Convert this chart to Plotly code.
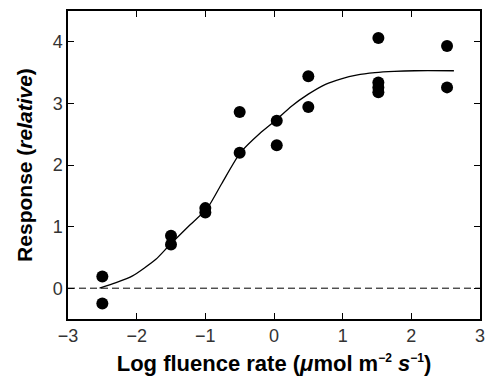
import plotly.graph_objects as go

# Measured data points
pt_x = [-2.5, -2.5, -1.5, -1.5, -1.0, -1.0, -0.5, -0.5, 0.04, 0.04, 0.5, 0.5,
        1.52, 1.52, 1.52, 1.52, 2.52, 2.52]
pt_y = [0.19, -0.25, 0.85, 0.71, 1.30, 1.23, 2.86, 2.20, 2.72, 2.32, 3.44, 2.94,
        4.06, 3.34, 3.26, 3.18, 3.93, 3.26]

# Fitted curve
curve_x = [-2.54, -2.3, -2.06, -1.72, -1.53, -1.24, -0.97, -0.76, -0.49, -0.2, 0.04,
           0.25, 0.5, 0.75, 0.98, 1.2, 1.47, 1.75, 2.05, 2.62]
curve_y = [0.0, 0.09, 0.2, 0.47, 0.69, 1.01, 1.30, 1.70, 2.20, 2.52, 2.74,
           2.95, 3.15, 3.31, 3.40, 3.46, 3.50, 3.52, 3.53, 3.53]

# Baseline
base_x = [-3, 3]
base_y = [0, 0]

x_ticks = [-3, -2, -1, 0, 1, 2, 3]
x_tick_text = ["\u22123", "\u22122", "\u22121", "0", "1", "2", "3"]
y_ticks = [0, 1, 2, 3, 4]

FONT = "Liberation Sans, Arial, Helvetica, sans-serif"

fig = go.Figure()
fig.add_trace(go.Scatter(x=base_x, y=base_y, mode="lines",
                         line=dict(color="black", width=1, dash="7px,4px"),
                         showlegend=False, hoverinfo="skip"))
fig.add_trace(go.Scatter(x=curve_x, y=curve_y, mode="lines",
                         line=dict(color="black", width=1.3, shape="spline", smoothing=0.6),
                         showlegend=False))
fig.add_trace(go.Scatter(x=pt_x, y=pt_y, mode="markers",
                         marker=dict(color="black", size=12),
                         showlegend=False))

axis_common = dict(showline=True, linecolor="black", linewidth=1.5, mirror="ticks",
                   ticks="inside", ticklen=6, tickwidth=1.2, tickcolor="black",
                   showgrid=False, zeroline=False, automargin=False,
                   tickfont=dict(family=FONT, size=18, color="#333"))

xtitle = ("<b>Log fluence rate (<i>\u03bc</i>mol m<sup><span style='font-size:12px'>\u22122</span></sup>"
          " <i>s</i><sup><span style='font-size:12px'>\u22121</span></sup>)</b>")

fig.update_layout(
    width=487, height=378,
    margin=dict(l=68, r=7, t=11, b=59),
    paper_bgcolor="white", plot_bgcolor="white",
    xaxis=dict(range=[-3, 3], tickvals=x_ticks, ticktext=x_tick_text,
               title=dict(text=xtitle,
                          font=dict(family=FONT, size=22, color="black"), standoff=10),
               **axis_common),
    yaxis=dict(range=[-0.5, 4.5], tickvals=y_ticks,
               title=dict(text="<b>Response (<i>relative</i>)</b>",
                          font=dict(family=FONT, size=21, color="black"), standoff=14),
               **axis_common),
)

fig.write_html("out.html")
